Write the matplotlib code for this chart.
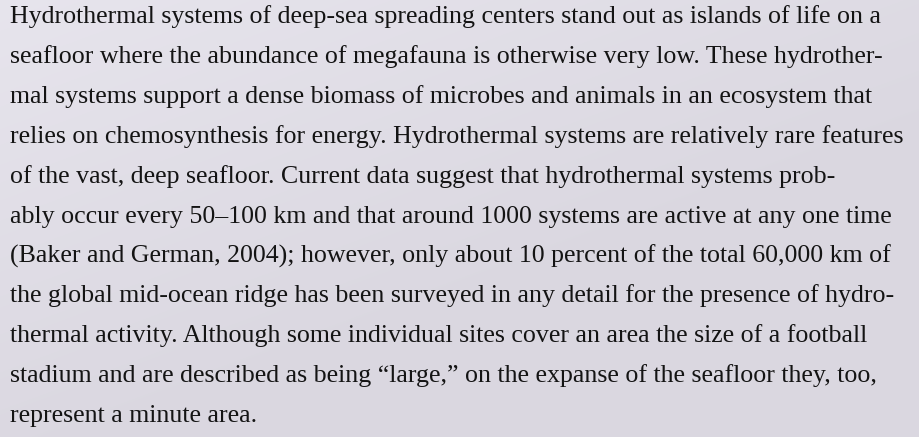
import matplotlib
matplotlib.use("Agg")
import matplotlib.pyplot as plt
import numpy as np

lines = [
    "Hydrothermal systems of deep-sea spreading centers stand out as islands of life on a",
    "seafloor where the abundance of megafauna is otherwise very low. These hydrother-",
    "mal systems support a dense biomass of microbes and animals in an ecosystem that",
    "relies on chemosynthesis for energy. Hydrothermal systems are relatively rare features",
    "of the vast, deep seafloor. Current data suggest that hydrothermal systems prob-",
    "ably occur every 50\u2013100 km and that around 1000 systems are active at any one time",
    "(Baker and German, 2004); however, only about 10 percent of the total 60,000 km of",
    "the global mid-ocean ridge has been surveyed in any detail for the presence of hydro-",
    "thermal activity. Although some individual sites cover an area the size of a football",
    "stadium and are described as being \u201clarge,\u201d on the expanse of the seafloor they, too,",
    "represent a minute area.",
]

W, H, DPI = 919, 437, 100
fig = plt.figure(figsize=(W / DPI, H / DPI), dpi=DPI)
ax = fig.add_axes([0, 0, 1, 1])
ax.set_xlim(0, W)
ax.set_ylim(H, 0)
ax.axis("off")

# soft background wash
yy, xx = np.mgrid[0:H, 0:W]
base = np.array([218, 215, 224]) / 255.0
light = np.array([234, 232, 240]) / 255.0
t = np.clip(1 - (xx / W * 0.7 + yy / H * 0.9), 0, 1)[..., None]
bg = base * (1 - t * 0.8) + light * (t * 0.8)
ax.imshow(bg, extent=[0, W, H, 0], aspect="auto", zorder=0)

fs = 19.0
top = 23
step = 39.9
max_w = 896.0
texts = []
for i, s in enumerate(lines):
    texts.append(ax.text(10, top + i * step, s, fontsize=fs, family="Liberation Serif",
                         color="#141414", va="baseline", ha="left", zorder=2))

# fit the widest line to the reference text block width
r = fig.canvas.get_renderer()
w0 = max(tx.get_window_extent(r).width for tx in texts)
scale = max_w / w0
for tx in texts:
    tx.set_fontsize(fs * scale)

fig.savefig("out.png", dpi=DPI)
